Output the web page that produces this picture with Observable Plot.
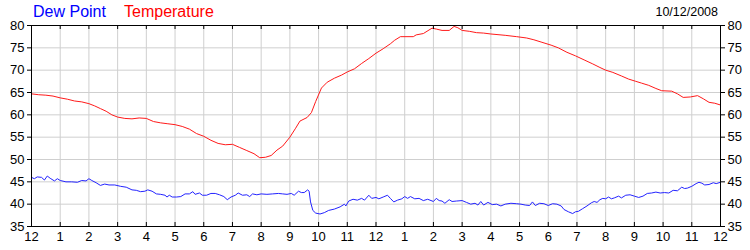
<!DOCTYPE html>
<html>
<head>
<meta charset="utf-8">
<script src="https://cdn.jsdelivr.net/npm/d3@7"></script>
<script src="https://cdn.jsdelivr.net/npm/@observablehq/plot@0.6"></script>
<style>
  html, body { margin: 0; padding: 0; background: #fff; }
  #wrap { position: relative; width: 750px; height: 250px; font-family: "Liberation Sans", Arial, sans-serif; }
  .hdr { position: absolute; line-height: normal; white-space: nowrap; }
</style>
</head>
<body>
<div id="wrap">
  <div id="chart"></div>
  <div class="hdr" style="left:33px;top:3px;font-size:16px;color:#0000ff">Dew Point</div>
  <div class="hdr" style="left:124px;top:3px;font-size:16px;color:#ff0000">Temperature</div>
  <div class="hdr" style="right:32px;top:5px;font-size:12.5px;color:#000">10/12/2008</div>
</div>
<script>
// Hours since midnight (0..24) and readings
const tempHours = [0,0.25,0.5,0.75,1.0,1.25,1.5,1.75,2.0,2.2,2.4,2.6,2.8,3.0,3.25,3.5,3.75,4.0,4.25,4.5,4.75,5.0,5.25,5.5,5.75,6.0,6.25,6.5,6.75,7.0,7.25,7.5,7.75,7.95,8.15,8.35,8.55,8.75,9.0,9.2,9.35,9.6,9.75,9.9,10.1,10.3,10.55,10.8,11.0,11.25,11.5,11.75,12.0,12.25,12.5,12.65,12.85,13.3,13.4,13.65,13.95,14.1,14.3,14.55,14.72,14.85,15.0,15.25,15.5,15.75,16.0,16.5,16.9,17.25,17.5,17.75,18.1,18.35,18.65,18.95,19.25,19.55,19.8,20.0,20.25,20.55,20.8,21.05,21.25,21.5,21.75,21.95,22.3,22.5,22.7,22.95,23.2,23.4,23.6,23.8,24.0];
const tempValues = [64.7,64.5,64.4,64.2,63.8,63.5,63.1,62.9,62.5,62.0,61.4,60.8,60.0,59.5,59.2,59.1,59.3,59.2,58.5,58.2,58.0,57.8,57.4,56.8,55.8,55.2,54.3,53.6,53.3,53.4,52.7,52.0,51.3,50.4,50.5,50.9,52.1,53.0,55.0,57.0,58.6,59.4,60.5,63.0,66.0,67.3,68.2,68.9,69.6,70.3,71.5,72.6,73.8,74.8,75.9,76.7,77.5,77.5,77.9,78.2,79.4,79.2,78.9,78.9,79.8,79.5,78.9,78.7,78.4,78.3,78.1,77.8,77.5,77.2,76.8,76.3,75.6,75.0,74.0,73.2,72.3,71.4,70.6,70.0,69.5,68.7,68.0,67.5,67.1,66.6,65.9,65.4,65.3,64.7,63.9,64.0,64.3,63.6,62.8,62.6,62.2];

const dewHours = [0,0.1,0.2,0.35,0.45,0.55,0.65,0.8,0.9,1.0,1.2,1.4,1.6,1.75,1.9,2.0,2.1,2.25,2.4,2.55,2.7,2.9,3.1,3.3,3.5,3.65,3.8,3.95,4.05,4.2,4.35,4.5,4.65,4.72,4.8,4.9,5.05,5.2,5.35,5.5,5.62,5.7,5.85,5.95,6.1,6.25,6.4,6.55,6.7,6.82,6.95,7.1,7.2,7.35,7.5,7.6,7.7,7.85,8.0,8.2,8.4,8.6,8.75,8.9,9.05,9.15,9.3,9.4,9.5,9.62,9.67,9.72,9.8,9.9,10.05,10.2,10.35,10.55,10.75,10.9,10.95,11.05,11.2,11.35,11.5,11.6,11.75,11.85,12.0,12.1,12.25,12.4,12.5,12.62,12.75,12.9,13.0,13.1,13.2,13.35,13.5,13.65,13.8,14.0,14.1,14.2,14.3,14.4,14.55,14.65,14.8,15.0,15.15,15.3,15.45,15.55,15.65,15.75,15.9,16.05,16.2,16.35,16.5,16.7,16.9,17.05,17.2,17.35,17.45,17.55,17.7,17.85,18.0,18.15,18.3,18.45,18.55,18.7,18.85,18.95,19.05,19.2,19.35,19.5,19.6,19.7,19.8,19.9,20.0,20.1,20.2,20.3,20.45,20.55,20.7,20.85,21.0,21.15,21.3,21.45,21.6,21.75,21.9,22.05,22.2,22.35,22.5,22.65,22.75,22.85,23.0,23.15,23.25,23.35,23.45,23.6,23.75,23.85,24.0];
const dewValues = [46.0,45.7,46.1,46.0,45.4,46.3,45.8,45.2,45.7,45.3,45.0,45.0,44.9,45.3,45.2,45.7,45.3,44.8,44.2,44.5,44.3,44.3,44.0,43.8,43.2,43.1,42.8,42.9,43.2,42.9,42.3,42.2,42.0,41.6,42.0,41.6,41.6,41.7,42.3,42.3,42.8,42.2,42.5,42.0,42.0,42.4,42.4,42.1,41.7,41.0,41.6,42.0,42.5,42.0,42.1,41.7,42.3,42.1,42.3,42.2,42.3,42.4,42.3,42.2,42.4,42.0,42.9,42.6,42.6,43.2,42.9,40.5,38.6,38.0,37.8,38.1,38.6,38.9,39.4,40.0,39.6,40.7,41.1,40.9,41.3,40.9,42.0,41.3,41.5,41.2,41.6,42.0,41.3,40.5,40.9,41.2,41.7,41.3,41.7,41.2,41.3,40.8,41.1,40.6,41.3,40.8,40.7,40.2,41.0,40.6,40.7,40.8,40.4,40.0,40.2,39.8,40.6,39.8,40.4,39.9,40.0,39.6,40.0,40.2,40.1,40.0,39.8,39.7,40.5,39.7,40.2,40.1,39.7,40.1,40.0,39.6,38.8,38.3,37.9,38.3,38.4,39.0,39.6,40.3,40.6,40.4,41.0,41.3,41.2,41.6,41.2,41.4,41.8,41.4,42.0,42.1,41.8,41.5,41.8,42.4,42.5,42.7,42.5,42.6,42.5,43.1,43.0,43.8,43.5,43.6,44.0,44.6,44.9,44.7,44.3,44.4,44.8,44.6,44.9];

const xTicks = [0,1,2,3,4,5,6,7,8,9,10,11,12,13,14,15,16,17,18,19,20,21,22,23,24];
const xTickLabels = ["12","1","2","3","4","5","6","7","8","9","10","11","12","1","2","3","4","5","6","7","8","9","10","11","12"];
const yTicks = [35,40,45,50,55,60,65,70,75,80];

const temp = tempHours.map((h, i) => ({h, v: tempValues[i]}));
const dew = dewHours.map((h, i) => ({h, v: dewValues[i]}));

const plot = Plot.plot({
  width: 750,
  height: 250,
  marginLeft: 31,
  marginRight: 30,
  marginTop: 25,
  marginBottom: 24,
  x: {domain: [0, 24]},
  y: {domain: [35, 80]},
  style: {fontFamily: "'Liberation Sans', Arial, sans-serif", fontSize: "13px", color: "#000", background: "#fff"},
  marks: [
    Plot.gridX(xTicks, {stroke: "#cfcfcf", strokeOpacity: 1}),
    Plot.gridY(yTicks, {stroke: "#cfcfcf", strokeOpacity: 1}),
    Plot.line(dew, {x: "h", y: "v", stroke: "#2323ff", strokeWidth: 1}),
    Plot.line(temp, {x: "h", y: "v", stroke: "#ff1a1a", strokeWidth: 1}),
    Plot.frame({stroke: "#000", strokeWidth: 1}),
    Plot.tickX(xTicks, {x: d => d, stroke: "#000", insetTop: 197}),
    Plot.tickX(xTicks, {x: d => d, stroke: "#000", insetBottom: 197}),
    Plot.axisY(yTicks, {anchor: "left", tickSize: 4, tickPadding: 3, label: null}),
    Plot.axisY(yTicks, {anchor: "right", tickSize: 4, tickPadding: 3, label: null}),
    Plot.axisX(xTicks, {anchor: "bottom", tickSize: 0, tickPadding: 5, label: null,
      tickFormat: (d) => xTickLabels[xTicks.indexOf(d)]})
  ]
});
document.getElementById("chart").appendChild(plot);
</script>
</body>
</html>
